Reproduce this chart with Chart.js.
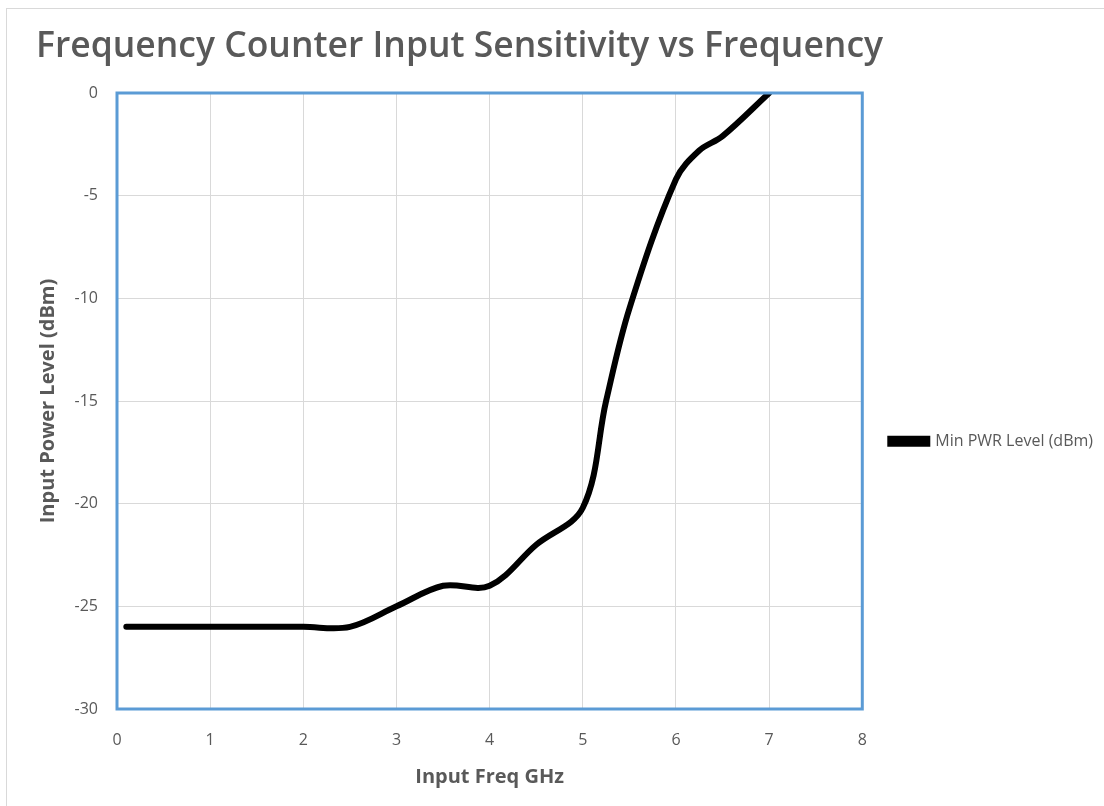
<!DOCTYPE html>
<html>
<head>
<meta charset="utf-8">
<script src="https://cdn.jsdelivr.net/npm/chart.js@4/dist/chart.umd.min.js"></script>
<style>
  html, body { margin: 0; padding: 0; background: #fff; overflow: hidden; }
  #frame { position: absolute; left: 6px; top: 8px; width: 1200px; height: 900px; border: 1px solid #d9d9d9; }
  #c { position: absolute; left: 0; top: 0; }
</style>
</head>
<body>
<div id="frame"></div>
<canvas id="c" width="1104" height="806"></canvas>
<script>
// 数据
const freqGHz = [0.1, 1, 2, 2.5, 3, 3.5, 4, 4.5, 5, 5.25, 5.5, 6, 6.25, 6.5, 7];
const minPwr = [-26, -26, -26, -26, -25, -24, -24, -22, -20.2, -15, -10.5, -4.2, -2.8, -2.1, 0];
const xTicks = [0, 1, 2, 3, 4, 5, 6, 7, 8];
const yTicks = [-30, -25, -20, -15, -10, -5, 0];

const grey = '#595959';
const font = 'Open Sans';

// 画框
const plotBorder = {
  id: 'plotBorder',
  afterDraw(chart) {
    const { ctx, chartArea: a } = chart;
    ctx.save();
    ctx.strokeStyle = '#5b9bd5';
    ctx.lineWidth = 3;
    ctx.strokeRect(a.left, a.top, a.right - a.left, a.bottom - a.top);
    ctx.restore();
  }
};

new Chart(document.getElementById('c'), {
  type: 'line',
  data: {
    datasets: [{
      label: 'Min PWR Level (dBm)',
      data: freqGHz.map((x, i) => ({ x, y: minPwr[i] })),
      borderColor: '#000',
      backgroundColor: '#000',
      borderWidth: 6,
      pointRadius: 0,
      tension: 0.35,
      borderCapStyle: 'round'
    }]
  },
  options: {
    responsive: false,
    animation: false,
    layout: { padding: { left: 36, top: 10, right: 1, bottom: 0 } },
    plugins: {
      title: {
        display: true,
        text: 'Frequency Counter Input Sensitivity vs Frequency',
        align: 'start',
        color: grey,
        font: { family: font, size: 35.5, weight: '600' },
        padding: { top: 15.7, bottom: 24.7 }
      },
      legend: {
        position: 'right',
        title: { display: true, text: ' ', font: { size: 12 }, padding: { top: 52, bottom: 0 } },
        labels: {
          color: grey,
          font: { family: font, size: 16 },
          boxWidth: 37,
          boxHeight: 5,
          padding: 28
        }
      },
      tooltip: { enabled: false }
    },
    scales: {
      x: {
        type: 'linear',
        min: 0,
        max: 8,
        afterBuildTicks(scale) { scale.ticks = xTicks.map(v => ({ value: v })); },
        afterFit(scale) { scale.height = 97; },
        ticks: { color: grey, font: { family: font, size: 16 }, padding: 22 },
        grid: { color: '#d9d9d9', drawTicks: false },
        border: { display: false },
        title: {
          display: true,
          text: 'Input Freq GHz',
          color: grey,
          font: { family: font, size: 20, weight: 'bold' },
          padding: { top: 0, bottom: 17 }
        }
      },
      y: {
        min: -30,
        max: 0,
        afterBuildTicks(scale) { scale.ticks = yTicks.map(v => ({ value: v })); },
        afterFit(scale) { scale.width = 81; },
        ticks: { color: grey, font: { family: font, size: 16 }, padding: 19 },
        grid: { color: '#d9d9d9', drawTicks: false },
        border: { display: false },
        title: {
          display: true,
          text: 'Input Power Level (dBm)',
          color: grey,
          font: { family: font, size: 20, weight: 'bold' },
          padding: 0
        }
      }
    }
  },
  plugins: [plotBorder]
});
</script>
</body>
</html>
